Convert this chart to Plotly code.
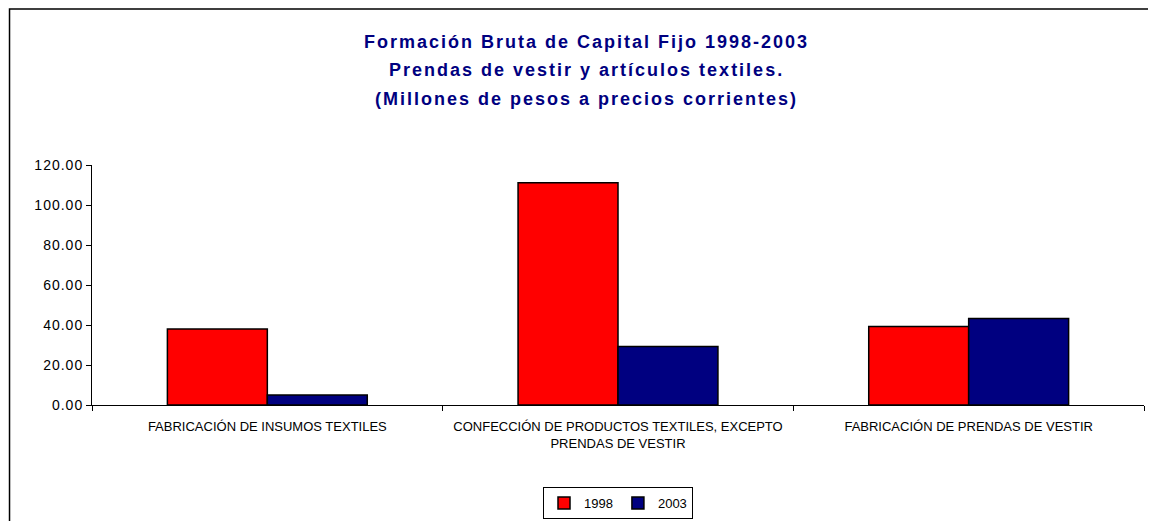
import plotly.graph_objects as go

# categories and series values
categorias = [
    'FABRICACIÓN DE INSUMOS TEXTILES',
    'CONFECCIÓN DE PRODUCTOS TEXTILES, EXCEPTO<br>PRENDAS DE VESTIR',
    'FABRICACIÓN DE PRENDAS DE VESTIR',
]
anios = ['1998', '2003']
valores_1998 = [38.0, 111.1, 39.2]
valores_2003 = [5.0, 29.2, 43.2]
colores = ['#FF0000', '#000080']
ticks_y = [0, 20, 40, 60, 80, 100, 120]

titulo = [
    'Formación Bruta de Capital Fijo 1998-2003',
    'Prendas de vestir y artículos textiles.',
    '(Millones de pesos a precios corrientes)',
]

fuente = 'Arial, Liberation Sans, sans-serif'


def espaciado(texto, px):
    # Excel draws the text with a little extra tracking
    return '<span style="letter-spacing:%spx">%s</span>' % (px, texto)


fig = go.Figure()
for anio, vals, col in zip(anios, [valores_1998, valores_2003], colores):
    fig.add_trace(go.Bar(
        x=categorias, y=vals, name=anio,
        marker=dict(color=col, line=dict(color='black', width=1.5)),
    ))

# the page has an 8px body margin, so the figure is 8px smaller than the window
fig.update_layout(
    width=1148, height=513,
    barmode='group', bargap=0.43, bargroupgap=0,
    plot_bgcolor='white', paper_bgcolor='white',
    margin=dict(l=84, r=12, t=157, b=116, autoexpand=False),
    font=dict(family=fuente, size=13, color='black'),
    showlegend=True,
    legend=dict(
        orientation='h', x=0.5, xanchor='center',
        yref='container', y=0.035, yanchor='middle',
        bordercolor='black', borderwidth=1, font=dict(size=13),
        itemwidth=30, tracegroupgap=0,
    ),
)

fig.update_xaxes(
    showline=True, linecolor='black', linewidth=1,
    ticks='outside', tickson='boundaries', ticklen=5, tickcolor='black',
    tickfont=dict(size=13), ticklabelstandoff=9, showgrid=False,
)
fig.update_yaxes(
    range=[0, 120], tickvals=ticks_y,
    ticktext=[espaciado('%.2f' % v, 1) for v in ticks_y],
    showline=True, linecolor='black', linewidth=1,
    ticks='outside', ticklen=5, tickcolor='black',
    showgrid=False, zeroline=False, tickfont=dict(size=14),
)

# three title lines spaced like the original
for texto, yy in zip(titulo, [1.5125, 1.396, 1.275]):
    fig.add_annotation(
        text='<b>' + espaciado(texto, 2) + '</b>', xref='paper', yref='paper',
        x=0.4696, y=yy, xanchor='center', yanchor='middle', showarrow=False,
        font=dict(family=fuente, size=18, color='#000080'),
    )

# chart frame (cropped on the right and bottom in the original)
fig.add_shape(
    type='rect', xref='paper', yref='paper',
    x0=-0.0784, x1=1.2, y0=-1, y1=1.65,
    line=dict(color='black', width=1.5), layer='below',
)

fig.write_html('out.html')
